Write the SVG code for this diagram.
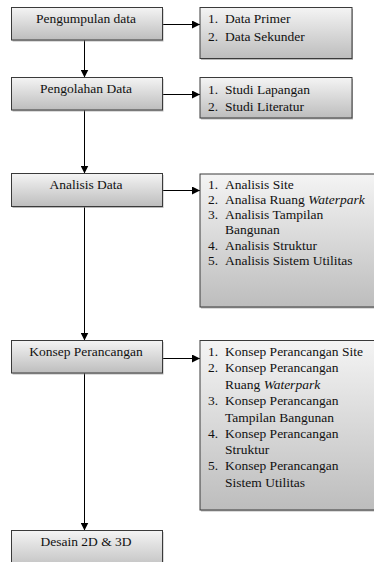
<svg xmlns="http://www.w3.org/2000/svg" width="374" height="562" viewBox="0 0 374 562">
<defs>
<linearGradient id="g" x1="0" y1="0" x2="0" y2="1">
<stop offset="0" stop-color="#f4f4f4"/>
<stop offset="1" stop-color="#bdbdbd"/>
</linearGradient>
<marker id="ah" viewBox="0 0 8 8" refX="8" refY="4" markerWidth="8" markerHeight="8" markerUnits="userSpaceOnUse" orient="auto">
<path d="M0,0 L8,4 L0,8 Z" fill="#000"/>
</marker>
</defs>
<style>
.box{fill:url(#g);stroke:#3a3a3a;stroke-width:1}
.sh{fill:#8a8a8a;opacity:0.6}
text{font-family:'Liberation Serif','Times New Roman',serif;font-size:13.5px;fill:#111}
.c{text-anchor:middle}
.ln{stroke:#000;stroke-width:1;fill:none}
</style>
<g id="connectors">
<line class="ln" x1="84.5" y1="40" x2="84.5" y2="77.5" marker-end="url(#ah)"/>
<line class="ln" x1="84.5" y1="110" x2="84.5" y2="173.5" marker-end="url(#ah)"/>
<line class="ln" x1="84.5" y1="207" x2="84.5" y2="340.5" marker-end="url(#ah)"/>
<line class="ln" x1="84.5" y1="373" x2="84.5" y2="530.5" marker-end="url(#ah)"/>
<line class="ln" x1="162" y1="24.5" x2="200" y2="24.5" marker-end="url(#ah)"/>
<line class="ln" x1="162" y1="94.5" x2="200" y2="94.5" marker-end="url(#ah)"/>
<line class="ln" x1="162" y1="190.5" x2="200" y2="190.5" marker-end="url(#ah)"/>
<line class="ln" x1="162" y1="358.5" x2="200" y2="358.5" marker-end="url(#ah)"/>
</g>
<g id="n1">
<rect class="sh" x="12.5" y="9" width="151" height="32.5"/>
<rect class="box" x="11.5" y="7.5" width="151" height="32.5"/>
<text class="c" x="86" y="23">Pengumpulan data</text>
</g>
<g id="n2">
<rect class="sh" x="12.5" y="79" width="151" height="32.5"/>
<rect class="box" x="11.5" y="77.5" width="151" height="32.5"/>
<text class="c" x="86" y="93">Pengolahan Data</text>
</g>
<g id="n3">
<rect class="sh" x="12.5" y="175" width="151" height="33"/>
<rect class="box" x="11.5" y="173.5" width="151" height="33"/>
<text class="c" x="86" y="188.5">Analisis Data</text>
</g>
<g id="n4">
<rect class="sh" x="12.5" y="342" width="151" height="32.5"/>
<rect class="box" x="11.5" y="340.5" width="151" height="32.5"/>
<text class="c" x="86" y="356">Konsep Perancangan</text>
</g>
<g id="n5">
<rect class="sh" x="12.5" y="532" width="151" height="40"/>
<rect class="box" x="11.5" y="530.5" width="151" height="40"/>
<text class="c" x="86" y="546">Desain 2D &amp; 3D</text>
</g>
<g id="r1">
<rect class="sh" x="201" y="9" width="152" height="51"/>
<rect class="box" x="200" y="7.5" width="152" height="51"/>
<text x="208" y="23">1.</text><text x="225" y="23">Data Primer</text>
<text x="208" y="40.5">2.</text><text x="225" y="40.5">Data Sekunder</text>
</g>
<g id="r2">
<rect class="sh" x="201" y="79" width="152" height="40.5"/>
<rect class="box" x="200" y="77.5" width="152" height="40.5"/>
<text x="208" y="93.5">1.</text><text x="225" y="93.5">Studi Lapangan</text>
<text x="208" y="111">2.</text><text x="225" y="111">Studi Literatur</text>
</g>
<g id="r3">
<rect class="sh" x="201" y="175.5" width="185" height="133"/>
<rect class="box" x="200" y="174" width="185" height="133"/>
<text x="208" y="188.5">1.</text><text x="225" y="188.5">Analisis Site</text>
<text x="208" y="203.5">2.</text><text x="225" y="203.5">Analisa Ruang <tspan font-style="italic">Waterpark</tspan></text>
<text x="208" y="218.5">3.</text><text x="225" y="218.5">Analisis Tampilan</text>
<text x="225" y="234">Bangunan</text>
<text x="208" y="249.5">4.</text><text x="225" y="249.5">Analisis Struktur</text>
<text x="208" y="265">5.</text><text x="225" y="265">Analisis Sistem Utilitas</text>
</g>
<g id="r4">
<rect class="sh" x="201" y="342" width="185" height="169.5"/>
<rect class="box" x="200" y="340.5" width="185" height="169.5"/>
<text x="208" y="356">1.</text><text x="225" y="356">Konsep Perancangan Site</text>
<text x="208" y="372">2.</text><text x="225" y="372">Konsep Perancangan</text>
<text x="225" y="388.5">Ruang <tspan font-style="italic">Waterpark</tspan></text>
<text x="208" y="405">3.</text><text x="225" y="405">Konsep Perancangan</text>
<text x="225" y="421.5">Tampilan Bangunan</text>
<text x="208" y="437.5">4.</text><text x="225" y="437.5">Konsep Perancangan</text>
<text x="225" y="453.5">Struktur</text>
<text x="208" y="470">5.</text><text x="225" y="470">Konsep Perancangan</text>
<text x="225" y="486.5">Sistem Utilitas</text>
</g>
</svg>
